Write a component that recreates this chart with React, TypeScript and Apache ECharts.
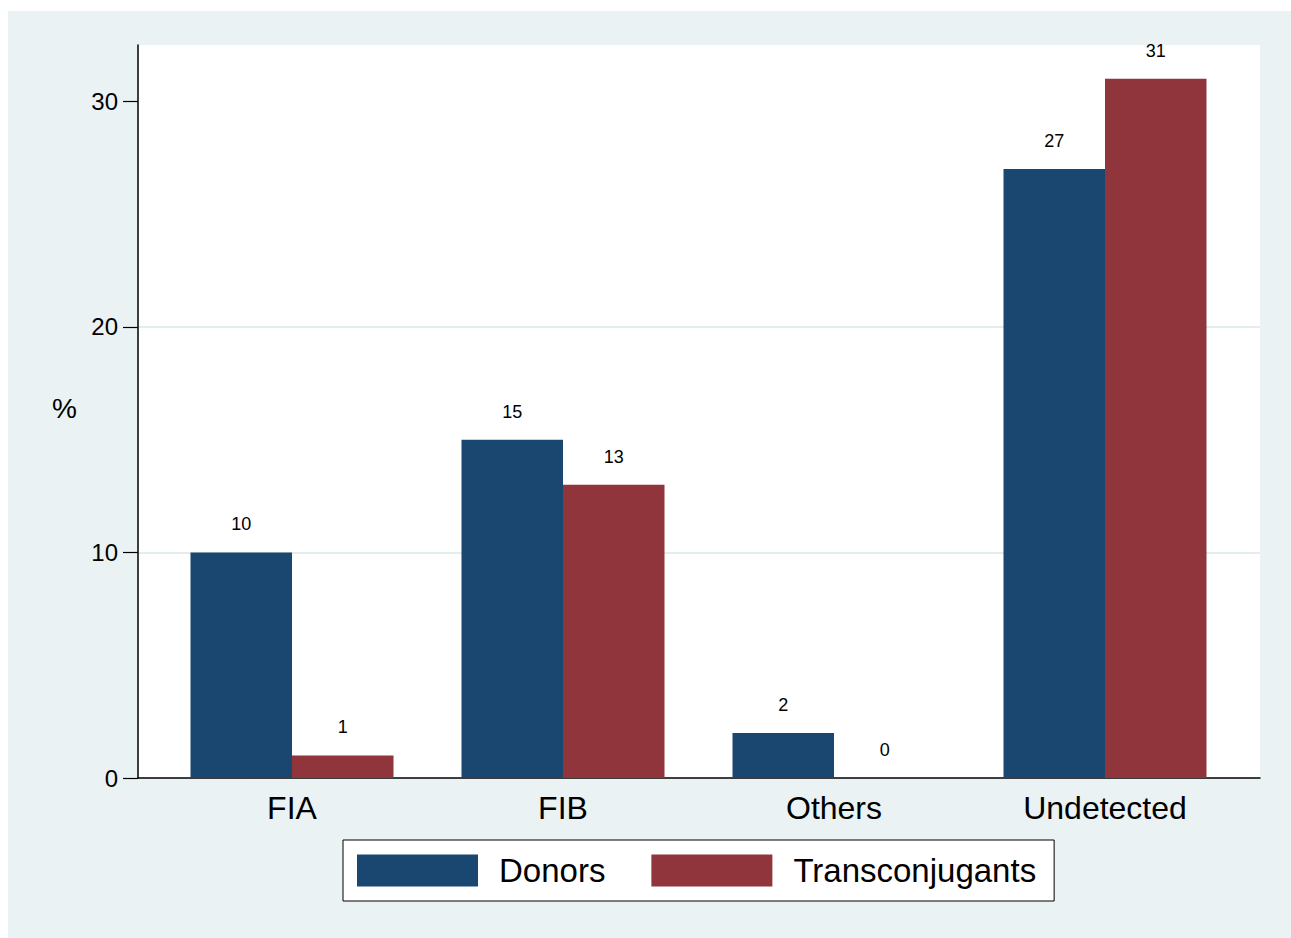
import React, { useEffect, useRef } from "react";
import * as echarts from "echarts";

const categories = ["FIA", "FIB", "Others", "Undetected"];
const donors = [10, 15, 2, 27];
const transconjugants = [1, 13, 0, 31];
const yTicks = [0, 10, 20, 30];

const FONT = "'Liberation Sans', Arial, Helvetica, sans-serif";
const BG = "#EAF2F3";
const NAVY = "#1A476F";
const MAROON = "#90353B";

export default function App() {
  const ref = useRef<HTMLDivElement>(null);
  useEffect(() => {
    if (!ref.current) return;
    const chart = echarts.init(ref.current, undefined, { renderer: "svg" });
    const labelCfg = {
      show: true,
      position: "top",
      distance: 19,
      fontSize: 18,
      color: "#000",
      fontFamily: FONT,
    };
    chart.setOption({
      animation: false,
      backgroundColor: BG,
      textStyle: { fontFamily: FONT },
      grid: [
        { left: 130, right: 31, top: 34, bottom: 160, show: true, backgroundColor: "#fff", borderWidth: 0 },
        { left: 148.5, right: 50.5, top: 34, bottom: 160 },
      ],
      xAxis: [
        {
          type: "value",
          gridIndex: 0,
          min: 0,
          max: 1,
          axisLine: { show: true, onZero: false, lineStyle: { color: "#000", width: 1.5 } },
          axisTick: { show: false },
          axisLabel: { show: false },
          splitLine: { show: false },
        },
        {
          type: "category",
          gridIndex: 1,
          data: categories,
          axisLine: { show: false },
          axisTick: { show: false },
          axisLabel: { fontSize: 32, color: "#000", margin: 14, fontFamily: FONT },
          splitLine: { show: false },
        },
      ],
      yAxis: [
        {
          type: "value",
          gridIndex: 0,
          min: 0,
          max: 32.5,
          interval: 10,
          axisLine: { show: true, lineStyle: { color: "#000", width: 1.5 } },
          axisTick: { show: true, length: 15, customValues: yTicks, lineStyle: { color: "#000", width: 1.2 } },
          axisLabel: { fontSize: 24, color: "#000", margin: 20, customValues: yTicks, fontFamily: FONT },
          splitLine: { show: true, showMinLine: false, showMaxLine: false, lineStyle: { color: "#E3EDEF", width: 2 } },
        },
        {
          type: "value",
          gridIndex: 1,
          min: 0,
          max: 32.5,
          interval: 10,
          show: false,
          splitLine: { show: false },
        },
      ],
      legend: {
        left: 335,
        top: 829,
        orient: "horizontal",
        backgroundColor: "#fff",
        borderColor: "#000",
        borderWidth: 1,
        borderRadius: 0,
        padding: [14, 18, 14, 14],
        itemWidth: 121,
        itemHeight: 32,
        itemGap: 46,
        icon: "rect",
        textStyle: { fontSize: 33, color: "#000", fontFamily: FONT, padding: [0, 0, 0, 16] },
        data: ["Donors", "Transconjugants"],
      },
      graphic: [
        {
          type: "text",
          left: 44,
          top: 383,
          style: { text: "%", fontSize: 28, fill: "#000", fontFamily: FONT },
        },
      ],
      series: [
        {
          name: "Donors",
          type: "bar",
          xAxisIndex: 1,
          yAxisIndex: 1,
          data: donors,
          barWidth: 101.5,
          barGap: "0%",
          itemStyle: { color: NAVY },
          label: labelCfg,
        },
        {
          name: "Transconjugants",
          type: "bar",
          xAxisIndex: 1,
          yAxisIndex: 1,
          data: transconjugants,
          barWidth: 101.5,
          barGap: "0%",
          itemStyle: { color: MAROON },
          label: labelCfg,
        },
      ],
    });
    return () => chart.dispose();
  }, []);
  return (
    <div
      ref={ref}
      style={{ position: "absolute", left: 8, top: 11, width: 1283, height: 927, background: BG }}
    />
  );
}
